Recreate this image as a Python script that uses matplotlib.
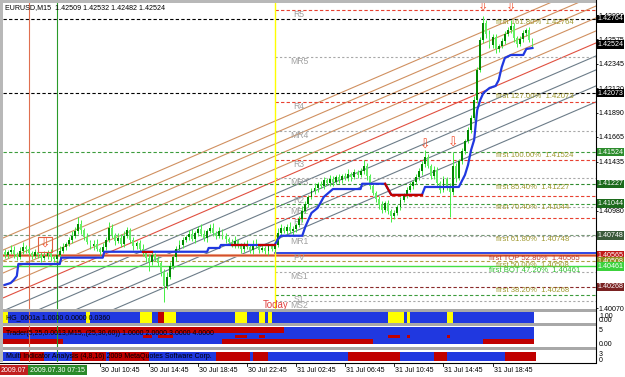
import matplotlib
matplotlib.use("Agg")
import matplotlib.pyplot as plt
import matplotlib.transforms as mtransforms
from matplotlib.patches import Rectangle
from matplotlib.lines import Line2D
import numpy as np

plt.rcParams['font.family'] = ['Liberation Sans', 'DejaVu Sans']

# EURUSD M15 bars, index 0 = 30 Jul 03:00
close = [1.40568, 1.40596, 1.40615, 1.40578, 1.40550, 1.40606, 1.40643, 1.40624, 1.40587, 1.40559,
         1.40596, 1.40568, 1.40541, 1.40559, 1.40596, 1.40550, 1.40531, 1.40568, 1.40606, 1.40643,
         1.40671, 1.40708, 1.40745, 1.40792, 1.40857, 1.40801, 1.40736, 1.40689, 1.40652, 1.40671,
         1.40624, 1.40596, 1.40643, 1.40708, 1.40820, 1.40754, 1.40699, 1.40727, 1.40671, 1.40745,
         1.40801, 1.40708, 1.40652, 1.40680, 1.40624, 1.40587, 1.40541, 1.40503, 1.40568, 1.40531,
         1.40494, 1.40410, 1.40280, 1.40364, 1.40466, 1.40550, 1.40624, 1.40661, 1.40708, 1.40736,
         1.40764, 1.40717, 1.40773, 1.40810, 1.40764, 1.40727, 1.40792, 1.40820, 1.40773, 1.40745,
         1.40792, 1.40745, 1.40717, 1.40689, 1.40661, 1.40699, 1.40652, 1.40624, 1.40671, 1.40643,
         1.40615, 1.40671, 1.40652, 1.40615, 1.40634, 1.40606, 1.40652, 1.40624, 1.40661, 1.40773,
         1.40820, 1.40792, 1.40829, 1.40792, 1.40810, 1.40847, 1.40903, 1.40978, 1.41043, 1.41108,
         1.41164, 1.41192, 1.41229, 1.41210, 1.41266, 1.41238, 1.41275, 1.41247, 1.41294, 1.41266,
         1.41303, 1.41285, 1.41322, 1.41294, 1.41340, 1.41312, 1.41350, 1.41396, 1.41303, 1.41210,
         1.41145, 1.41089, 1.41033, 1.40987, 1.41052, 1.40978, 1.40931, 1.40959, 1.41015, 1.41080,
         1.41126, 1.41173, 1.41210, 1.41247, 1.41294, 1.41350, 1.41415, 1.41480, 1.41396, 1.41303,
         1.41359, 1.41238, 1.41173, 1.41275, 1.41210, 1.41154, 1.41396, 1.41285, 1.41443, 1.41536,
         1.41629, 1.41731, 1.41843, 1.42010, 1.42289, 1.42568, 1.42726, 1.42624, 1.42521, 1.42596,
         1.42484, 1.42512, 1.42559, 1.42624, 1.42661, 1.42698, 1.42587, 1.42531, 1.42577, 1.42633,
         1.42661, 1.42568, 1.42524]
first_open = 1.40590
# wick lengths in pips
upper_wick = [3, 2, 4, 3, 2, 3, 4, 2, 3, 2, 3, 2, 3, 4, 2, 3, 2, 3, 4, 3,
              2, 3, 4, 3, 6.5, 3, 2, 3, 2, 3, 4, 2, 3, 3, 5.6, 3, 2, 4, 3, 4,
              3, 2, 3, 2, 3, 4, 2, 3, 3, 2, 3, 2, 3, 4, 3, 2, 3, 4, 3, 2,
              3, 4, 2, 3, 4, 3, 2, 3, 4, 2, 3, 2, 3, 2, 3, 4, 2, 3, 2, 3,
              2, 3, 4, 2, 3, 2, 3, 2, 3, 4, 3, 2, 3, 4, 3, 2, 3, 4, 3, 2,
              3, 4, 2, 3, 3, 2, 4, 3, 2, 3, 2, 3, 4, 2, 3, 2, 3, 5.6, 3, 2,
              3, 2, 3, 4, 2, 3, 2, 3, 2, 3, 2, 3, 4, 2, 3, 3, 3, 6.5, 3, 2,
              4, 3, 2, 3, 2, 3, 13, 3, 2, 3, 2, 3, 3, 4, 3, 3, 6.5, 3, 4, 3,
              3, 2, 3, 3, 3, 5.6, 3, 2, 3, 3, 2, 3, 2]
lower_wick = [3, 3, 2, 4, 3, 2, 3, 4, 2, 3, 2, 3, 4, 2, 3, 4, 3, 2, 3, 2,
              3, 2, 3, 2, 3, 4, 3, 2, 3, 4, 2, 3, 4, 3, 2, 3, 4, 2, 3, 3,
              2, 3, 4, 3, 2, 3, 4, 9, 3, 2, 3, 4, 15, 3, 2, 3, 4, 2, 3, 2,
              3, 2, 4, 3, 2, 3, 4, 2, 3, 3, 2, 3, 4, 3, 2, 3, 2, 4, 3, 2,
              3, 4, 2, 3, 2, 3, 4, 2, 3, 2, 3, 2, 3, 2, 4, 3, 2, 3, 2, 3,
              2, 3, 4, 2, 3, 2, 3, 4, 2, 3, 3, 2, 3, 4, 2, 3, 2, 3, 4, 3,
              2, 3, 4, 3, 2, 3, 5.6, 3, 2, 3, 2, 3, 2, 3, 2, 3, 4, 3, 2, 3,
              3, 4, 3, 2, 4, 23, 3, 4, 2, 3, 3, 2, 3, 2, 3, 2, 3, 4, 3, 3,
              4, 3, 2, 3, 2, 3, 4, 3, 2, 3, 3, 2, 2]

# trailing stop line
trail_idx = [0, 2, 3, 4, 4.5, 18, 18.5, 32, 32.5, 66, 66.5, 70, 70.5, 88, 89, 90, 97, 98, 100, 102,
             104, 107, 116, 116.5, 124, 126, 136, 137, 148, 150, 151, 152, 153, 154, 155, 156, 158,
             160, 161, 162, 163, 165, 169, 170, 172]
trail_px = [1.40287, 1.40305, 1.40333, 1.40370, 1.40482, 1.40482, 1.40541, 1.40541, 1.40596, 1.40596,
            1.40631, 1.40631, 1.40659, 1.40659, 1.40708, 1.40745, 1.40745, 1.40829, 1.40957, 1.41004,
            1.41106, 1.41180, 1.41180, 1.41229, 1.41229, 1.41125, 1.41125, 1.41199, 1.41199, 1.41311,
            1.41404, 1.41543, 1.41637, 1.41916, 1.42010, 1.42074, 1.42121, 1.42140, 1.42195, 1.42316,
            1.42400, 1.42428, 1.42428, 1.42484, 1.42493]
trail_red = [(45, 48), (74, 79), (83, 88), (124, 136)]

# parallel channel lines (price at left edge / right edge)
chan_start = [1.40724, 1.40612, 1.40510, 1.40398, 1.40277, 1.40166, 1.40045, 1.39914, 1.39765, 1.39616]
chan_end = [1.43098, 1.42987, 1.42884, 1.42773, 1.42652, 1.42540, 1.42419, 1.42289, 1.42140, 1.41991]
chan_color = ['#d09060'] * 5 + ['#e05040'] + ['#6c7c88'] * 4

# fibo levels
fib_price = [1.42764, 1.42073, 1.41524, 1.41227, 1.41044, 1.40748, 1.40565, 1.40508, 1.40461, 1.40268]
fib_text = ["first 161.80%  1.42764", "first 127.00%  1.42073", "first 100.00%  1.41524",
            "first 85.40%  1.41227", "first 70.40%  1.41044", "first 61.80%  1.40748",
            "first TOP 52.80%  1.40565", "first 50.00%  1.40508", "first BOT 47.20%  1.40461",
            "first 38.20%  1.40268"]
fib_line = ['#000000', '#000000', '#3c9c3c', '#2f8a2f', '#3c9c3c', '#7a9a7a', '#e89878', '#b0a040', '#44e044', '#8a2a2a']
fib_box = ['#000000', '#000000', '#2c8c2c', '#1c6a1c', '#1c6a1c', '#3a5a3a', '#c01818', '#8c8c1c', '#3cd23c', '#7a2222']
fib_tcol = ['#a09a30'] * 6 + ['#c04030', '#a09a30', '#30c030', '#a09a30']

# intraday pivots (start at "Today")
piv_name = ["R5", "MR5", "R4", "MR4", "R3", "MR3", "R2", "MR2", "R1", "MR1", "PV", "MS1", "S1", "MS2"]
piv_price = [1.42847, 1.42410, 1.41991, 1.41722, 1.41452, 1.41285, 1.41117, 1.41015, 1.40913, 1.40739,
             1.40587, 1.40410, 1.40196, 1.40141]

price_ticks = [1.40070, 1.40295, 1.40525, 1.40755, 1.40980, 1.41210, 1.41435, 1.41665, 1.41890,
               1.42120, 1.42345, 1.42575, 1.42800]
# labels that sit under a coloured price box in the terminal stay blank
price_tick_lab = ['1.40070', '', '', '', '1.40980', '', '1.41435', '1.41665', '1.41890',
                  '1.42120', '1.42345', '1.42575', '1.42800']
time_idx = [31, 47, 63, 79, 95, 111, 127, 143, 159]
time_lab = ["30 Jul 10:45", "30 Jul 14:45", "30 Jul 18:45", "30 Jul 22:45", "31 Jul 02:45",
            "31 Jul 06:45", "31 Jul 10:45", "31 Jul 14:45", "31 Jul 18:45"]

arrow_idx = [137, 146, 156, 165]
arrow_px = [1.41590, 1.41609, 1.42875, 1.42875]

red_vline, green_vline, today_idx = 8, 17, 88

# sub windows (spans in bar index)
hg_yellow = [(-0.5, 1), (26.5, 28), (44, 48), (52, 56), (75, 79), (83, 85), (86, 87), (125, 130), (131, 132), (144, 146)]
hg_red = [(50, 52)]
tr_top_red = [(-0.5, 91)]
tr_mid_red = [(45, 48), (50, 55), (75, 79), (83, 85), (125, 129), (131, 132), (144, 145)]
tr_bot_red = [(-0.5, 19), (71, 120), (156, 172.5)]
mi_red = [(5, 13), (22, 33), (34, 47), (69, 80), (81, 86), (112, 129), (140, 144), (163, 173)]

BLUE = '#2038e0'
RED = '#c00000'

fig = plt.figure(figsize=(6.25, 3.77), dpi=100)
W, H = 625.0, 377.0


def box(x0, y0, x1, y1):
    return [x0 / W, 1 - y1 / H, (x1 - x0) / W, (y1 - y0) / H]


XL = (-0.5, 192.7)
ax = fig.add_axes(box(3, 3, 596, 309))
s1 = fig.add_axes(box(3, 312, 596, 323))
s2 = fig.add_axes(box(3, 326, 596, 347))
s3 = fig.add_axes(box(3, 350, 596, 362))

for a in (ax, s1, s2, s3):
    a.set_xlim(*XL)
    for sp in a.spines.values():
        sp.set_visible(False)
    a.set_xticks([])
    a.set_yticks([])

# borders / separators
for (x0, y0, x1, y1, col) in [(0, 0, 596, 3, '#b8b8b8'), (0, 0, 3, 362, '#b8b8b8'),
                              (3, 309, 596, 312, '#a8a8a8'), (3, 323, 596, 326, '#a8a8a8'),
                              (3, 347, 596, 350, '#a8a8a8')]:
    fig.patches.append(Rectangle((x0 / W, 1 - y1 / H), (x1 - x0) / W, (y1 - y0) / H,
                                 transform=fig.transFigure, color=col, lw=0))
fig.lines.append(Line2D([596 / W, 596 / W], [1 - 362 / H, 1], transform=fig.transFigure, color='black', lw=0.8))
fig.lines.append(Line2D([0, 596 / W], [1 - 362.5 / H, 1 - 362.5 / H], transform=fig.transFigure, color='black', lw=0.8))

# ---------------- main chart
ax.set_ylim(1.40063, 1.42912)
n = len(close)
xs = np.arange(n)
c = np.array(close)
o = np.r_[first_open, c[:-1]]
hi = np.maximum(o, c) + np.array(upper_wick) * 1e-4
lo = np.minimum(o, c) - np.array(lower_wick) * 1e-4

for y0, y1, col in zip(chan_start, chan_end, chan_color):
    ax.plot(XL, [y0, y1], color=col, lw=0.8, zorder=2)

for p, col in zip(fib_price, fib_line):
    if col == '#e89878':
        ax.plot(XL, [p, p], color=col, lw=2.2, zorder=2)
        ax.plot(XL, [p, p], color='#d04020', lw=0.6, zorder=2)
    elif col == '#44e044':
        ax.plot(XL, [p, p], color=col, lw=1.0, zorder=2)
    else:
        ax.plot(XL, [p, p], color=col, lw=0.8, ls=(0, (3, 2)), zorder=2)

for name, p in zip(piv_name, piv_price):
    if name == 'PV':
        ax.plot([today_idx, XL[1]], [p, p], color=BLUE, lw=1.3, zorder=2)
    elif name.startswith('R'):
        ax.plot([today_idx, XL[1]], [p, p], color='#e84030', lw=0.8, ls=(0, (3, 2)), zorder=2)
    elif name == 'S1':
        ax.plot([today_idx, XL[1]], [p, p], color='#3c9c3c', lw=0.8, ls=(0, (3, 2)), zorder=2)
    else:
        ax.plot([today_idx, XL[1]], [p, p], color='#a8a8a8', lw=0.8, ls=(0, (2, 2)), zorder=2)
    ax.text(96, p - 0.00004, name, color='#a0a0a0', fontsize=6.2, ha='center', va='top', zorder=2)

ax.axvline(red_vline, color='#e07050', lw=0.8, zorder=2)
ax.axvline(green_vline, color='#2a9a2a', lw=0.8, zorder=2)
ax.axvline(today_idx, color='#ffff00', lw=1.0, zorder=2)
ax.text(today_idx + 0.3, 1.40100, 'Today', color='#e04040', fontsize=7, ha='center', va='center', zorder=3)

for p, t, col in zip(fib_price, fib_text, fib_tcol):
    x0 = 158 if ('TOP' in t or 'BOT' in t) else 160
    ax.text(x0, p - 0.00003, t, color=col, fontsize=5.6, ha='left', va='top', zorder=3)

# candles
ax.vlines(xs, lo, hi, color='#44ee44', lw=0.7, zorder=4)
up = c >= o
body = np.where(np.abs(c - o) < 1.5e-5, 1.5e-5, c - o)
ax.bar(xs[up], body[up], bottom=o[up], width=0.62, color='#008800', zorder=5)
ax.bar(xs[~up], body[~up], bottom=o[~up], width=0.62, color='#66f066', zorder=5)

# trailing line
ax.plot(trail_idx, trail_px, color=BLUE, lw=1.6, zorder=6)
for a0, a1 in trail_red:
    gx = np.linspace(a0, a1, 30)
    ax.plot(gx, np.interp(gx, trail_idx, trail_px), color=RED, lw=1.6, zorder=7)

# arrows
for i, p in zip(arrow_idx, arrow_px):
    ax.text(i, p, '\u21e9', color='#f05030', fontsize=9, ha='center', va='center',
            family=['DejaVu Sans'], zorder=8)
ax.add_patch(Rectangle((10.9, 1.40594), 4.6, 0.00139, fill=False, edgecolor='#e06040', lw=0.8, zorder=8))
ax.text(13.2, 1.40668, '\u21e9', color='#f05030', fontsize=9, ha='center', va='center',
        family=['DejaVu Sans'], zorder=8)

# price scale
ax.yaxis.tick_right()
ax.set_yticks(price_ticks)
ax.set_yticklabels(price_tick_lab)
ax.tick_params(axis='y', direction='out', length=1.5, width=0.6, labelsize=5.1, pad=0.5)
tr = mtransforms.blended_transform_factory(ax.transAxes, ax.transData)
box_vals = fib_price + [1.42524]
box_cols = fib_box + ['#000000']
for p, bc in zip(box_vals, box_cols):
    ax.text(1.002, p, '%.5f' % p, transform=tr, color='white', fontsize=5.1, ha='left', va='center',
            bbox=dict(facecolor=bc, edgecolor='none', pad=0.6), zorder=10, clip_on=False)

fig.text(5 / W, 1 - 8 / H, 'EURUSD,M15  1.42509 1.42532 1.42482 1.42524', fontsize=5.1, va='center')

# ---------------- sub window 1
s1.set_ylim(0, 1)
s1.broken_barh([(-0.5, 173)], (0, 1), facecolors=BLUE)
s1.broken_barh([(a, b - a) for a, b in hg_yellow], (0, 1), facecolors='#ffff00')
s1.broken_barh([(a, b - a) for a, b in hg_red], (0, 1), facecolors=RED)
s1.text(0.5, 0.5, 'HG_0001a 1.0000 0.0000 0.0360', fontsize=5, va='center')

# ---------------- sub window 2
s2.set_ylim(21, 0)
s2.broken_barh([(-0.5, 173)], (1, 17), facecolors=BLUE)
s2.broken_barh([(a, b - a) for a, b in tr_top_red], (1, 6), facecolors=RED)
s2.broken_barh([(a, b - a) for a, b in tr_mid_red], (9, 3), facecolors=RED)
s2.broken_barh([(a, b - a) for a, b in tr_bot_red], (13, 5), facecolors=RED)
s2.text(0.5, 7.5, 'Trader(5,25,0.0013,M15,,(25,30,60)) 1.0000 2.0000 3.0000 4.0000', fontsize=5, va='center')

# ---------------- sub window 3
s3.set_ylim(12, 0)
s3.broken_barh([(-0.5, 173)], (1.5, 9), facecolors=BLUE)
s3.broken_barh([(a, b - a) for a, b in mi_red], (1.5, 9), facecolors=RED)
s3.text(0.5, 6, 'Multi Indicator Analysis (4,8,16) 2009 MetaQuotes Software Corp.', fontsize=5, va='center')

for a in (s1, s2, s3):
    a.axvline(red_vline, color='#e07050', lw=0.8)
    a.axvline(green_vline, color='#2a9a2a', lw=0.8)

for (yy, t) in [(316, '1.00'), (321, '0.00'), (331, '5'), (344, '0.00'), (355, '3'), (360, '0')]:
    fig.text(599 / W, 1 - yy / H, t, fontsize=5, va='center')

# time axis
for i, t in zip(time_idx, time_lab):
    xf = (3 + (i - XL[0]) / (XL[1] - XL[0]) * 593) / W
    fig.lines.append(Line2D([xf, xf], [1 - 362.5 / H, 1 - 366 / H], transform=fig.transFigure, color='black', lw=0.6))
    fig.text(xf + 1 / W, 1 - 370 / H, t, fontsize=5, va='center', ha='left')
fig.text(1 / W, 1 - 370 / H, '2009.07', fontsize=5, va='center', color='white',
         bbox=dict(facecolor='#c02020', edgecolor='none', pad=1.2))
fig.text(30 / W, 1 - 370 / H, '2009.07.30 07:15', fontsize=5, va='center', color='white',
         bbox=dict(facecolor='#2a8a2a', edgecolor='none', pad=1.2))

fig.savefig('out.png', dpi=100)
